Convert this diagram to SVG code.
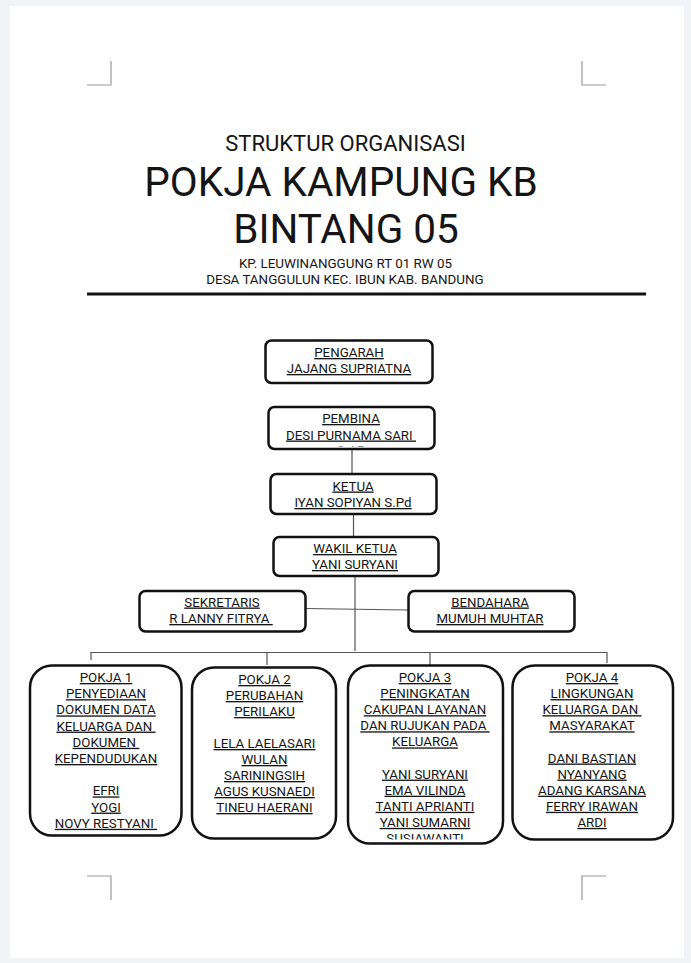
<svg xmlns="http://www.w3.org/2000/svg" width="691" height="963" viewBox="0 0 691 963">
<style>
text{font-family:Roboto,"Liberation Sans",sans-serif;fill:#151515}
.t{text-anchor:middle}
.b{font-size:13.3px;text-anchor:middle;text-decoration:underline;white-space:pre}
.box{fill:#fff;stroke:#111;stroke-width:2.5}
.cn{stroke:#555;stroke-width:1.2;fill:none}
.mk{stroke:#999;stroke-width:1.2;fill:none}
</style>
<defs>
<clipPath id="cpPembina"><rect x="268" y="406" width="166" height="40.5"/></clipPath>
<clipPath id="cpPokja3"><rect x="347" y="665" width="156" height="174.5"/></clipPath>
</defs>
<rect x="0" y="0" width="691" height="963" fill="#f2f3f7"/>
<rect x="10" y="6" width="674" height="952" fill="#fff"/>
<g id="cropmarks">
<path class="mk" d="M87 85H111V61M582 61V85H606M87 876H111V900M582 900V876H606"/>
</g>
<g id="title">
<text class="t" x="345.5" y="151" font-size="22">STRUKTUR ORGANISASI</text>
<text class="t" x="341" y="196" font-size="40.5">POKJA KAMPUNG KB</text>
<text class="t" x="346" y="243" font-size="40.5">BINTANG 05</text>
<text class="t" x="345.5" y="268" font-size="13.4">KP. LEUWINANGGUNG RT 01 RW 05</text>
<text class="t" x="345" y="284" font-size="13.4">DESA TANGGULUN KEC. IBUN KAB. BANDUNG</text>
<line x1="87" y1="294" x2="646" y2="294" stroke="#111" stroke-width="3"/>
</g>
<g id="connectors">
<line class="cn" x1="352" y1="449" x2="352" y2="474"/>
<line class="cn" x1="353.5" y1="514" x2="353.5" y2="537"/>
<line class="cn" x1="355" y1="576" x2="355" y2="651"/>
<line class="cn" x1="305" y1="608.5" x2="408" y2="610"/>
<path class="cn" d="M91 660V652.5H607V663M267 652.5V665M430 652.5V665"/>
</g>
<g id="pengarah">
<rect class="box" x="265.5" y="340.5" width="167" height="42.5" rx="6"/>
<text class="b" x="349" y="357">PENGARAH</text>
<text class="b" x="349" y="373">JAJANG SUPRIATNA</text>
</g>
<g id="pembina">
<rect class="box" x="268.5" y="407" width="166" height="42" rx="6"/>
<text class="b" x="351" y="423">PEMBINA</text>
<text class="b" x="351" y="439.5">DESI PURNAMA SARI </text>
<text class="b" x="351" y="454.5" clip-path="url(#cpPembina)">S.AP</text>
</g>
<g id="ketua">
<rect class="box" x="270.5" y="474" width="166" height="40" rx="6"/>
<text class="b" x="353" y="490.5">KETUA</text>
<text class="b" x="353" y="507">IYAN SOPIYAN S.Pd</text>
</g>
<g id="wakil">
<rect class="box" x="273.5" y="537" width="165" height="39" rx="6"/>
<text class="b" x="355" y="553">WAKIL KETUA</text>
<text class="b" x="355" y="569">YANI SURYANI</text>
</g>
<g id="sekretaris">
<rect class="box" x="139.5" y="591" width="166" height="40.5" rx="6"/>
<text class="b" x="222" y="606.5">SEKRETARIS</text>
<text class="b" x="221" y="623">R LANNY FITRYA </text>
</g>
<g id="bendahara">
<rect class="box" x="408.5" y="591" width="166" height="40.5" rx="6"/>
<text class="b" x="490" y="606.5">BENDAHARA</text>
<text class="b" x="490" y="623">MUMUH MUHTAR</text>
</g>
<g id="pokja1">
<rect class="box" x="30" y="665.5" width="151.5" height="170" rx="22"/>
<text class="b" x="106" y="682">POKJA 1</text>
<text class="b" x="106" y="698.2">PENYEDIAAN</text>
<text class="b" x="106" y="714.4">DOKUMEN DATA</text>
<text class="b" x="106" y="730.6">KELUARGA DAN </text>
<text class="b" x="106" y="746.8">DOKUMEN </text>
<text class="b" x="106" y="763">KEPENDUDUKAN</text>
<text class="b" x="106" y="795.4">EFRI</text>
<text class="b" x="106" y="811.6">YOGI</text>
<text class="b" x="106" y="827.8">NOVY RESTYANI </text>
</g>
<g id="pokja2">
<rect class="box" x="192" y="667.5" width="144" height="171" rx="22"/>
<text class="b" x="264.5" y="684">POKJA 2</text>
<text class="b" x="264.5" y="700">PERUBAHAN</text>
<text class="b" x="264.5" y="716">PERILAKU</text>
<text class="b" x="264.5" y="748">LELA LAELASARI</text>
<text class="b" x="264.5" y="764">WULAN</text>
<text class="b" x="264.5" y="780">SARININGSIH</text>
<text class="b" x="264.5" y="796">AGUS KUSNAEDI</text>
<text class="b" x="264.5" y="812">TINEU HAERANI</text>
</g>
<g id="pokja3">
<rect class="box" x="348" y="665.5" width="155" height="178" rx="22"/>
<g clip-path="url(#cpPokja3)">
<text class="b" x="425" y="682">POKJA 3</text>
<text class="b" x="425" y="698.1">PENINGKATAN</text>
<text class="b" x="425" y="714.2">CAKUPAN LAYANAN</text>
<text class="b" x="425" y="730.3">DAN RUJUKAN PADA </text>
<text class="b" x="425" y="746.4">KELUARGA</text>
<text class="b" x="425" y="778.6">YANI SURYANI</text>
<text class="b" x="425" y="794.7">EMA VILINDA</text>
<text class="b" x="425" y="810.8">TANTI APRIANTI</text>
<text class="b" x="425" y="826.9">YANI SUMARNI</text>
<text class="b" x="425" y="843">SUSIAWANTI</text>
</g>
</g>
<g id="pokja4">
<rect class="box" x="512.5" y="665.5" width="160.5" height="174" rx="22"/>
<text class="b" x="592" y="682">POKJA 4</text>
<text class="b" x="592" y="698.1">LINGKUNGAN</text>
<text class="b" x="592" y="714.2">KELUARGA DAN </text>
<text class="b" x="592" y="730.3">MASYARAKAT</text>
<text class="b" x="592" y="762.5">DANI BASTIAN</text>
<text class="b" x="592" y="778.6">NYANYANG</text>
<text class="b" x="592" y="794.7">ADANG KARSANA</text>
<text class="b" x="592" y="810.8">FERRY IRAWAN</text>
<text class="b" x="592" y="826.9">ARDI</text>
</g>
</svg>
